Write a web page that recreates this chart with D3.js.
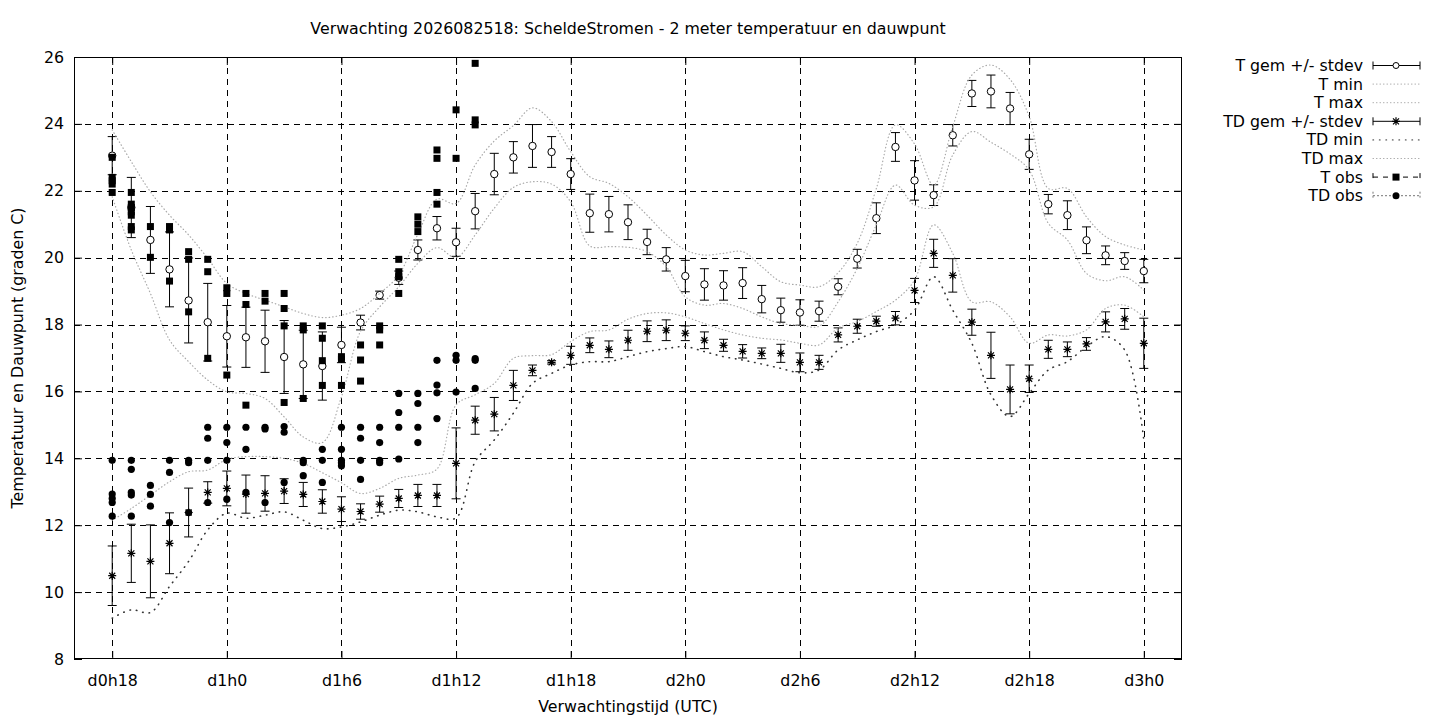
<!DOCTYPE html>
<html>
<head>
<meta charset="utf-8">
<script src="https://cdn.jsdelivr.net/npm/d3@7"></script>
<style>
  body { margin: 0; background: #fff; }
  svg { font-family: "DejaVu Sans", sans-serif; }
</style>
</head>
<body>
<div></div>
<script>
// forecast hours (since d0h0)
const hours = [18, 19, 20, 21, 22, 23, 24, 25, 26, 27, 28, 29, 30, 31, 32, 33, 34, 35, 36,
  37, 38, 39, 40, 41, 42, 43, 44, 45, 46, 47, 48, 49, 50, 51, 52, 53, 54, 55, 56, 57, 58,
  59, 60, 61, 62, 63, 64, 65, 66, 67, 68, 69, 70, 71, 72];

// T gemiddelde en stdev
const tGem = [23.05, 21.5, 20.53, 19.65, 18.72, 18.07, 17.65, 17.62, 17.5, 17.03, 16.81, 16.76,
  17.39, 18.06, 18.88, 19.4, 20.23, 20.88, 20.46, 21.39, 22.5, 23.0, 23.34, 23.16, 22.5, 21.33,
  21.3, 21.06, 20.47, 19.95, 19.45, 19.2, 19.17, 19.24, 18.76, 18.43, 18.36, 18.4, 19.13, 19.97,
  21.18, 23.31, 22.31, 21.87, 23.66, 24.91, 24.97, 24.46, 23.09, 21.6, 21.27, 20.52, 20.07, 19.9, 19.6];
const tSd = [0.57, 0.9, 1.0, 1.12, 1.27, 1.16, 0.92, 0.9, 0.93, 1.09, 1.02, 1.02, 0.53, 0.22,
  0.12, 0.2, 0.3, 0.35, 0.42, 0.53, 0.62, 0.47, 0.64, 0.46, 0.46, 0.57, 0.53, 0.52, 0.38, 0.35,
  0.47, 0.47, 0.44, 0.46, 0.41, 0.36, 0.38, 0.3, 0.24, 0.28, 0.46, 0.43, 0.59, 0.31, 0.32, 0.39,
  0.49, 0.48, 0.45, 0.29, 0.43, 0.4, 0.28, 0.25, 0.35];
const tMin = [21.82, 20.23, 18.93, 17.54, 16.89, 16.34, 15.99, 15.94, 15.79, 15.24, 14.64, 14.47,
  15.84, 17.8, 18.53, 19.13, 19.83, 20.3, 20.0, 20.68, 21.48, 22.1, 22.27, 22.2, 21.67, 20.35,
  20.33, 20.31, 20.18, 19.73, 18.83, 18.58, 18.63, 18.48, 18.23, 18.03, 17.98, 17.95, 18.68, 19.68,
  20.98, 22.17, 21.57, 21.52, 23.07, 23.77, 23.45, 23.1, 22.62, 21.03, 20.53, 19.53, 19.31, 19.43, 19.03];
const tMax = [23.82, 22.87, 21.97, 21.27, 20.68, 19.98, 19.23, 18.93, 18.73, 18.53, 18.33, 18.21,
  18.28, 18.48, 18.93, 19.48, 20.7, 21.75, 21.62, 22.77, 23.49, 23.95, 24.48, 24.07, 23.17, 22.42,
  22.22, 21.82, 21.27, 20.68, 20.23, 20.08, 20.13, 20.18, 19.73, 19.28, 19.18, 19.13, 19.55, 20.43,
  22.07, 23.97, 23.4, 22.17, 23.92, 25.46, 25.76, 25.33, 24.22, 22.07, 22.07, 21.22, 20.63, 20.38, 20.23];

// TD gemiddelde en stdev
const tdGem = [10.49, 11.16, 10.92, 11.46, 12.38, 12.98, 13.1, 12.93, 12.95, 13.02, 12.92, 12.71,
  12.48, 12.41, 12.63, 12.8, 12.89, 12.89, 13.85, 15.14, 15.32, 16.18, 16.63, 16.87, 17.08, 17.38,
  17.26, 17.53, 17.8, 17.83, 17.74, 17.53, 17.38, 17.2, 17.14, 17.14, 16.87, 16.87, 17.69, 17.95,
  18.1, 18.19, 19.02, 20.13, 19.47, 18.07, 17.08, 16.06, 16.38, 17.26, 17.26, 17.42, 18.08, 18.17, 17.44];
const tdSd = [0.89, 0.87, 1.09, 0.91, 0.73, 0.32, 0.52, 0.57, 0.53, 0.37, 0.36, 0.35, 0.37, 0.23,
  0.24, 0.27, 0.33, 0.33, 1.06, 0.42, 0.5, 0.45, 0.16, 0.05, 0.27, 0.22, 0.25, 0.3, 0.31, 0.31,
  0.22, 0.25, 0.18, 0.2, 0.16, 0.27, 0.28, 0.21, 0.21, 0.21, 0.15, 0.2, 0.36, 0.42, 0.5, 0.39,
  0.69, 0.73, 0.41, 0.27, 0.22, 0.19, 0.3, 0.31, 0.75];
const tdMin = [9.22, 9.47, 9.39, 10.17, 10.92, 11.86, 12.36, 12.21, 12.3, 12.4, 12.15, 11.9, 11.95,
  12.1, 12.3, 12.45, 12.4, 12.25, 12.22, 13.9, 14.55, 15.35, 16.24, 16.54, 16.79, 16.89, 16.89,
  17.04, 17.19, 17.28, 17.34, 17.19, 17.04, 16.94, 16.82, 16.69, 16.56, 16.64, 17.24, 17.54, 17.79,
  17.99, 18.43, 19.43, 18.43, 17.44, 15.9, 15.25, 15.94, 16.64, 16.89, 17.34, 17.64, 17.24, 14.55];
const tdMax = [12.15, 12.5, 12.9, 13.3, 13.6, 13.65, 13.97, 14.05, 14.05, 14.0, 13.85, 13.57, 13.27,
  12.95, 13.1, 13.4, 13.5, 13.68, 15.6, 15.9, 16.24, 16.99, 17.07, 17.1, 17.49, 17.79, 17.84,
  18.16, 18.33, 18.35, 18.23, 18.03, 17.84, 17.69, 17.59, 17.54, 17.44, 17.39, 17.9, 18.09, 18.39,
  18.73, 19.33, 20.98, 20.13, 18.68, 18.68, 18.23, 17.44, 17.69, 17.66, 17.84, 18.48, 18.58, 18.23];

// observations (several stations per hour)
const obsHours = [18, 19, 20, 21, 22, 23, 24, 25, 26, 27, 28, 29, 30, 31, 32, 33, 34, 35, 36, 37];
const tObs = [
  [23.0, 22.4, 22.3, 22.2, 21.95],
  [21.95, 21.6, 21.5, 21.37, 21.27, 20.93, 20.83],
  [20.93, 20.01],
  [20.93, 20.83, 19.3],
  [20.18, 19.95, 18.38],
  [19.95, 19.58, 16.99],
  [19.1, 18.93, 16.49],
  [18.93, 18.6, 15.59],
  [18.93, 18.7],
  [18.93, 18.48, 17.96, 15.67],
  [17.96, 17.84, 15.79],
  [17.96, 17.59, 16.92, 16.18],
  [17.04, 16.96, 16.18],
  [17.39, 16.94, 16.31],
  [17.96, 17.84, 17.39],
  [19.95, 19.58, 19.43, 18.93],
  [21.22, 21.0, 20.78],
  [23.22, 22.97, 21.95, 21.6],
  [24.42, 22.97],
  [25.81, 24.12, 23.97]
];
const tdObs = [
  [13.94, 12.93, 12.8, 12.68, 12.27],
  [13.94, 13.67, 12.98, 12.9, 12.27],
  [13.19, 12.92, 12.57],
  [13.94, 13.58, 12.08],
  [13.94, 13.87, 12.38],
  [14.93, 14.6, 13.94, 12.68],
  [14.93, 14.47, 13.94, 12.78],
  [14.93, 14.27, 12.98],
  [14.93, 14.88, 12.68],
  [14.95, 14.78, 13.28],
  [13.94, 13.87, 13.48],
  [14.27, 13.94, 13.28],
  [14.93, 14.27, 13.94, 13.87, 13.78],
  [14.93, 14.6, 13.94, 13.37],
  [14.93, 14.47, 13.94, 13.87],
  [15.94, 15.37, 14.93, 13.98],
  [15.94, 15.64, 14.93, 14.47],
  [16.93, 16.19, 15.96, 15.19],
  [17.08, 16.93, 15.98],
  [16.98, 16.93, 16.09]
];

// axis ticks
const xTicks = [18, 24, 30, 36, 42, 48, 54, 60, 66, 72];
const xTickLabels = ["d0h18", "d1h0", "d1h6", "d1h12", "d1h18", "d2h0", "d2h6", "d2h12", "d2h18", "d3h0"];
const yTicks = [8, 10, 12, 14, 16, 18, 20, 22, 24, 26];

const legendLabels = ["T gem +/- stdev", "T min", "T max", "TD gem +/- stdev", "TD min", "TD max", "T obs", "TD obs"];

// set the dimensions of the plot area
const W = 1440, H = 720;
const plot = { left: 74, right: 1182, top: 57, bottom: 659 };

const svg = d3.select("body div")
  .append("svg")
  .attr("width", W)
  .attr("height", H);

const x = d3.scaleLinear().domain([16, 74]).range([plot.left, plot.right]);
const y = d3.scaleLinear().domain([8, 26]).range([plot.bottom, plot.top]);

const fs = "15.8px";
const gray = "#a8a8a8";

// grid
const grid = svg.append("g").attr("stroke", "#000").attr("stroke-width", 1)
  .attr("stroke-dasharray", "6,5").attr("shape-rendering", "crispEdges");
yTicks.filter(v => v > 8 && v < 26).forEach(v => {
  grid.append("line").attr("x1", plot.left).attr("x2", plot.right)
    .attr("y1", Math.round(y(v)) + 0.5).attr("y2", Math.round(y(v)) + 0.5);
});
xTicks.forEach(v => {
  grid.append("line").attr("y1", plot.top).attr("y2", plot.bottom)
    .attr("x1", Math.round(x(v)) + 0.5).attr("x2", Math.round(x(v)) + 0.5);
});

// axes with inward ticks on all four sides
const axL = svg.append("g").attr("transform", `translate(${plot.left},0)`)
  .call(d3.axisLeft(y).tickValues(yTicks).tickSize(-8).tickPadding(10).tickFormat(d3.format("d")));
const axR = svg.append("g").attr("transform", `translate(${plot.right},0)`)
  .call(d3.axisRight(y).tickValues(yTicks).tickSize(-8).tickFormat(""));
const axB = svg.append("g").attr("transform", `translate(0,${plot.bottom})`)
  .call(d3.axisBottom(x).tickValues(xTicks).tickSize(-8).tickPadding(16)
    .tickFormat((d, i) => xTickLabels[i]));
const axT = svg.append("g").attr("transform", `translate(0,${plot.top})`)
  .call(d3.axisTop(x).tickValues(xTicks).tickSize(-8).tickFormat(""));
[axL, axR, axB, axT].forEach(a => {
  a.select(".domain").remove();
  a.selectAll("text").style("font-size", fs).style("font-family", "DejaVu Sans").attr("fill", "#000");
  a.selectAll("line").attr("stroke", "#000");
});

// border
svg.append("rect")
  .attr("x", plot.left + 0.5).attr("y", plot.top + 0.5)
  .attr("width", plot.right - plot.left - 1).attr("height", plot.bottom - plot.top - 1)
  .attr("fill", "none").attr("stroke", "#000");

// titles
svg.append("text").attr("x", 628).attr("y", 34).attr("text-anchor", "middle")
  .style("font-size", fs).text("Verwachting 2026082518: ScheldeStromen - 2 meter temperatuur en dauwpunt");
svg.append("text").attr("x", 628).attr("y", 712).attr("text-anchor", "middle")
  .style("font-size", fs).text("Verwachtingstijd (UTC)");
svg.append("text").attr("transform", `translate(23,358) rotate(-90)`).attr("text-anchor", "middle")
  .style("font-size", fs).text("Temperatuur en Dauwpunt (graden C)");

const g = svg.append("g");
const cap = 4.5;

const star = "M-4,0H4M0,-4V4M-3,-3L3,3M-3,3L3,-3";

// error bars
function errorbars(mean, sd, marker) {
  const eg = g.append("g");
  hours.forEach((h, i) => {
    const cx = x(h), lo = y(mean[i] - sd[i]), hi = y(mean[i] + sd[i]);
    eg.append("path")
      .attr("d", `M${cx},${lo}V${hi}M${cx - cap},${lo}H${cx + cap}M${cx - cap},${hi}H${cx + cap}`)
      .attr("stroke", "#000").attr("fill", "none");
    if (marker === "circle") {
      eg.append("circle").attr("cx", cx).attr("cy", y(mean[i])).attr("r", 3.7)
        .attr("fill", "#fff").attr("stroke", "#000");
    } else {
      eg.append("path").attr("d", star).attr("transform", `translate(${cx},${y(mean[i])})`)
        .attr("stroke", "#000").attr("stroke-width", 1.2).attr("fill", "none");
    }
  });
}

function curve(vals, color, dash, width) {
  g.append("path")
    .datum(vals)
    .attr("d", d3.line().x((d, i) => x(hours[i])).y(d => y(d)).curve(d3.curveCatmullRom))
    .attr("fill", "none").attr("stroke", color).attr("stroke-width", width)
    .attr("stroke-dasharray", dash).attr("stroke-linecap", "round");
}

errorbars(tGem, tSd, "circle");
curve(tMin, gray, "0.5,3", 1.2);
curve(tMax, gray, "0.5,3", 1.2);
errorbars(tdGem, tdSd, "star");
curve(tdMin, "#333", "0.5,6", 1.6);
curve(tdMax, gray, "0.5,3", 1.2);

// observations
obsHours.forEach((h, i) => {
  tObs[i].forEach(v => {
    g.append("rect").attr("x", x(h) - 3.5).attr("y", y(v) - 3.5)
      .attr("width", 7).attr("height", 7).attr("fill", "#000");
  });
});
obsHours.forEach((h, i) => {
  tdObs[i].forEach(v => {
    g.append("circle").attr("cx", x(h)).attr("cy", y(v)).attr("r", 3.6).attr("fill", "#000");
  });
});

// legend
const leg = svg.append("g");
const lx0 = 1373, lx1 = 1420, lmid = 1396;
legendLabels.forEach((lab, i) => {
  const ly = 65.5 + i * 18.6;
  leg.append("text").attr("x", 1363).attr("y", ly + 5.5).attr("text-anchor", "end")
    .style("font-size", fs).text(lab);
  if (i === 0 || i === 3) {
    leg.append("path").attr("d", `M${lx0},${ly}H${lx1}M${lx0},${ly - 4}V${ly + 4}M${lx1},${ly - 4}V${ly + 4}`)
      .attr("stroke", "#000").attr("fill", "none");
    if (i === 0) {
      leg.append("circle").attr("cx", lmid).attr("cy", ly).attr("r", 3).attr("fill", "#fff").attr("stroke", "#000");
    } else {
      leg.append("path").attr("d", star).attr("transform", `translate(${lmid},${ly})`)
        .attr("stroke", "#000").attr("stroke-width", 1.2);
    }
  } else if (i === 4) {
    leg.append("line").attr("x1", lx0).attr("x2", lx1).attr("y1", ly).attr("y2", ly)
      .attr("stroke", "#555").attr("stroke-width", 1.4).attr("stroke-dasharray", "0.5,6").attr("stroke-linecap", "round");
  } else if (i === 1 || i === 2 || i === 5) {
    leg.append("line").attr("x1", lx0).attr("x2", lx1).attr("y1", ly).attr("y2", ly)
      .attr("stroke", gray).attr("stroke-width", 1).attr("stroke-dasharray", "0.5,3").attr("stroke-linecap", "round");
  } else {
    const dash = i === 6 ? "5,5" : "2,2";
    leg.append("path").attr("d", `M${lx0},${ly}H${lx1}M${lx0},${ly - 4}V${ly + 4}M${lx1},${ly - 4}V${ly + 4}`)
      .attr("stroke", i === 6 ? "#000" : "#777").attr("fill", "none").attr("stroke-dasharray", dash);
    if (i === 6) {
      leg.append("rect").attr("x", lmid - 3.5).attr("y", ly - 3.5).attr("width", 7).attr("height", 7).attr("fill", "#000");
    } else {
      leg.append("circle").attr("cx", lmid).attr("cy", ly).attr("r", 3.5).attr("fill", "#000");
    }
  }
});
</script>
</body>
</html>
